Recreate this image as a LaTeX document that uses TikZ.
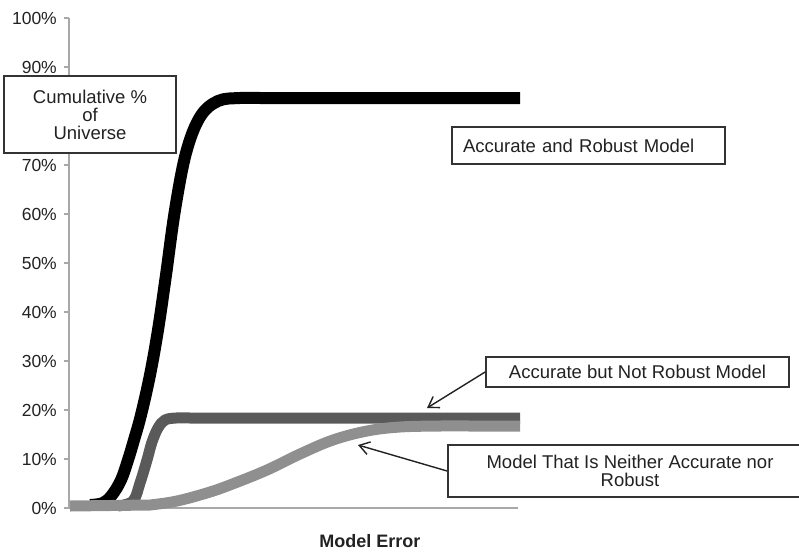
\documentclass[tikz,border=0pt]{standalone}
\usepackage{fontspec}
\setmainfont{Liberation Sans}
\usetikzlibrary{arrows.meta}

\definecolor{axisgray}{HTML}{A8A8A8}
\definecolor{labelgray}{HTML}{222222}
\definecolor{boxedge}{HTML}{333333}
\definecolor{darkseries}{HTML}{5A5A5A}
\definecolor{lightseries}{HTML}{8F8F8F}

\tikzset{
  axisline/.style={draw=axisgray, line width=2pt},
  ticklabel/.style={anchor=east, inner sep=0pt, text=labelgray,
    font=\fontsize{17.5}{17.5}\selectfont},
  series/.style={line width=#1, line join=round, line cap=butt},
  labelbox/.style={draw=boxedge, line width=1.8pt, fill=white, text=labelgray,
    inner ysep=0pt, font=\fontsize{18.5}{18.5}\selectfont},
  pointer/.style={draw=labelgray, line width=1.4pt,
    -{Straight Barb[length=10pt,width=13pt,line width=1.4pt]}},
}

\begin{document}
\begin{tikzpicture}[x=1pt, y=-1pt]
  \useasboundingbox (0,0) rectangle (799,552);
  \clip (0,0) rectangle (799,552);

  % value axis with ticks and percentage labels (0% at 508, 49 units per 10%)
  \draw[axisline] (69,18) -- (69,508);
  \draw[axisline] (69,508) -- (518,508);
  \foreach \v in {0,10,20,30,40,50,60,70,90,100} {
    \pgfmathsetmacro{\yy}{508-4.9*\v}
    \draw[axisgray, line width=1.2pt] (64,\yy) -- (69,\yy);
    \node[ticklabel] (tick\v) at (57,\yy) {\v\%};
  }

  % accurate and robust model
  \draw[series=12pt, black]
    plot[smooth, tension=0.6] coordinates {
      (90,505) (103,503) (112,495) (121,480) (128,460) (134,440) (141,415) (150,375)
      (158,330) (166,275) (175,210) (186,153) (200,117) (218,101) (240,98) (260,98)}
    -- (520,98);

  % accurate but not robust model
  \draw[series=11pt, darkseries]
    plot[smooth, tension=0.6] coordinates {
      (118,506) (133,501) (140,483) (147,460) (152,442) (158,428) (165,420)
      (176,418) (190,418)}
    -- (520,418);

  % model that is neither accurate nor robust
  \draw[series=11pt, lightseries]
    (70,506) -- plot[smooth, tension=0.6] coordinates {
      (150,505) (177,501) (210,492) (235,483) (267,470) (300,454) (333,440)
      (367,431) (400,427) (440,426) (470,426)}
    -- (520,426);

  % axis title
  \node[anchor=base, inner sep=0pt, text=labelgray,
        font=\fontsize{18}{18}\selectfont\bfseries] (xtitle) at (370,547) {Model Error};

  % annotation boxes
  \node[labelbox, minimum width=172pt, minimum height=77pt, align=center,
        font=\fontsize{18.5}{18}\selectfont] (cum) at (90,114.5)
        {Cumulative \%\\of\\Universe};
  \node[labelbox, minimum height=37pt, text width=251pt, inner xsep=11pt,
        align=left] (robust) at (588.5,145.5) {Accurate and Robust Model};
  \node[labelbox, minimum width=303pt, minimum height=30pt] (notrobust)
        at (637.5,372) {Accurate but Not Robust Model};
  \node[labelbox, minimum width=364pt, minimum height=52pt, align=center,
        font=\fontsize{18.5}{18}\selectfont] (neither) at (630,471)
        {Model That Is Neither Accurate nor\\Robust};

  % pointers from the labels to their curves
  \coordinate (tipA) at (427,408);
  \coordinate (tipB) at (358,445);
  \draw[pointer] (notrobust.west) -- (tipA);
  \draw[pointer] (neither.west) -- (tipB);
\end{tikzpicture}
\end{document}
